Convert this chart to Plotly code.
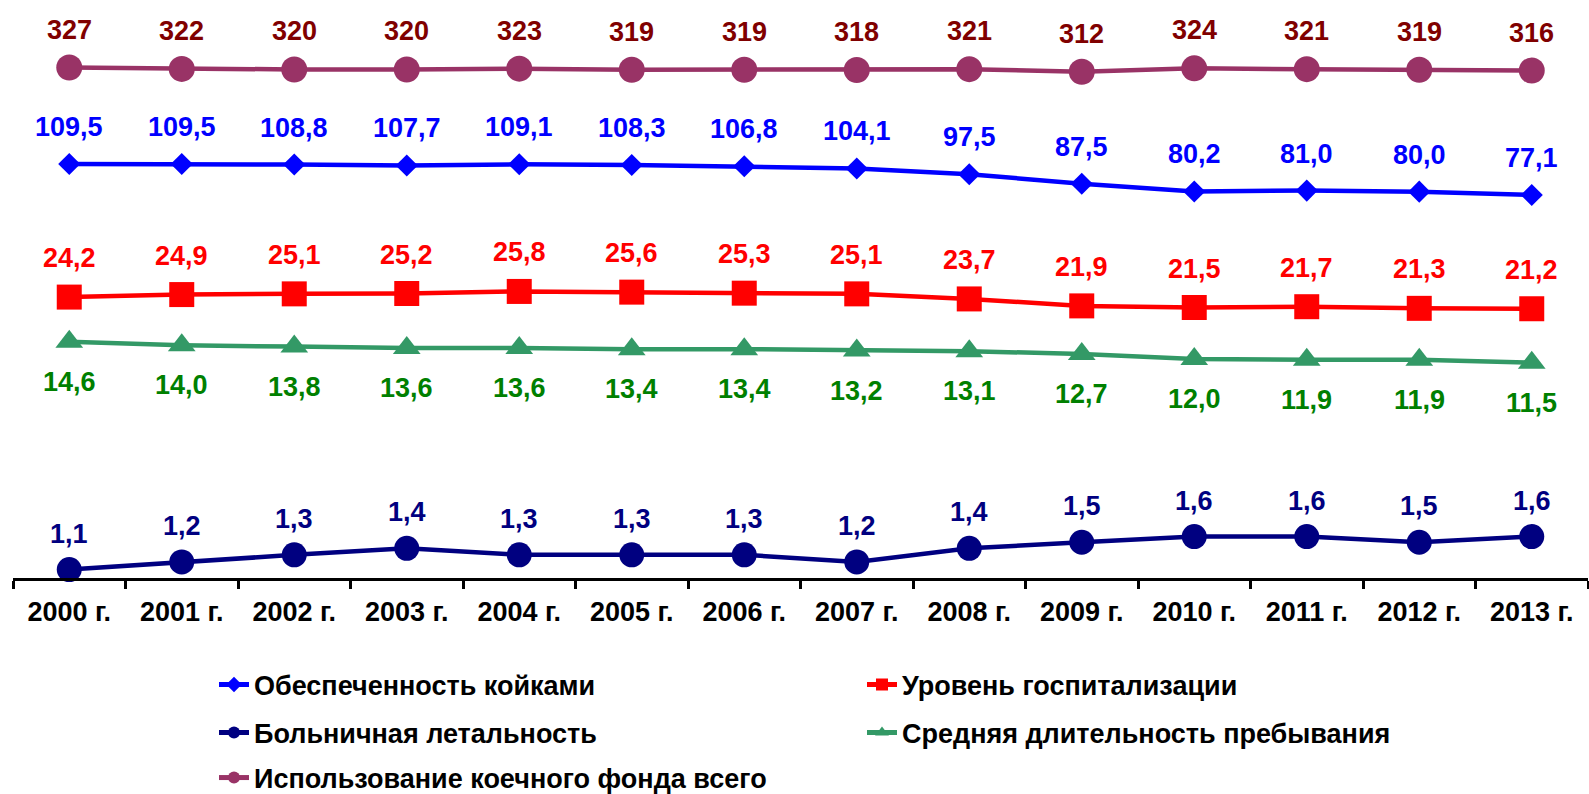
import math
import plotly.graph_objects as go

years = ["2000 г.", "2001 г.", "2002 г.", "2003 г.", "2004 г.", "2005 г.", "2006 г.",
         "2007 г.", "2008 г.", "2009 г.", "2010 г.", "2011 г.", "2012 г.", "2013 г."]

beds = [109.5, 109.5, 108.8, 107.7, 109.1, 108.3, 106.8, 104.1, 97.5, 87.5, 80.2, 81.0, 80.0, 77.1]
hosp = [24.2, 24.9, 25.1, 25.2, 25.8, 25.6, 25.3, 25.1, 23.7, 21.9, 21.5, 21.7, 21.3, 21.2]
mortality = [1.1, 1.2, 1.3, 1.4, 1.3, 1.3, 1.3, 1.2, 1.4, 1.5, 1.6, 1.6, 1.5, 1.6]
stay = [14.6, 14.0, 13.8, 13.6, 13.6, 13.4, 13.4, 13.2, 13.1, 12.7, 12.0, 11.9, 11.9, 11.5]
usage = [327, 322, 320, 320, 323, 319, 319, 318, 321, 312, 324, 321, 319, 316]

names = ["Обеспеченность койками", "Уровень госпитализации", "Больничная летальность",
         "Средняя длительность пребывания", "Использование коечного фонда всего"]

W, H = 1589, 794
L, R, T, B = 13, 1, 0, 216
plot_h = H - T - B
plot_w = W - L - R
px_per_decade = 203.0

BOLD = "Arial, Liberation Sans, sans-serif"

series = [
    # values, name, line color, marker symbol, marker size, label color, label shift, decimals
    (beds, names[0], "#0000FF", "diamond", 17, "#0000FF", 37, 1),
    (hosp, names[1], "#FF0000", "square", 25, "#FF0000", 39, 1),
    (mortality, names[2], "#000080", "circle", 25, "#000080", 36, 1),
    (stay, names[3], "#339966", "triangle-up", 24, "#008000", -40, 1),
    (usage, names[4], "#993366", "circle", 26, "#800000", 38, 0),
]

# text start x, row center y (pixels)
legend_pos = [
    (255, 685), (903, 685), (255, 733), (903, 733), (255, 778)
]

fig = go.Figure()
annotations = []
for i, (vals, name, lc, sym, ms, tc, shift, dec) in enumerate(series):
    lg = "legend" if i == 0 else f"legend{i+1}"
    fig.add_trace(go.Scatter(
        x=years, y=vals, name=name, mode="lines+markers",
        line=dict(color=lc, width=4.5),
        marker=dict(symbol=sym, size=ms, color=lc),
        cliponaxis=False, legend=lg,
    ))
    for xv, v in zip(years, vals):
        txt = (f"{v:.{dec}f}").replace(".", ",")
        annotations.append(dict(
            x=xv, y=math.log10(v), xref="x", yref="y", text=txt, showarrow=False,
            yshift=shift, font=dict(family=BOLD, size=27, color=tc, weight="bold"),
            xanchor="center", yanchor="middle",
        ))

layout_legends = {}
for i, (lx, ly) in enumerate(legend_pos):
    key = "legend" if i == 0 else f"legend{i+1}"
    layout_legends[key] = dict(
        x=(lx - 41 - L) / plot_w, y=(T + plot_h - ly) / plot_h,
        xanchor="left", yanchor="middle", orientation="h",
        bgcolor="rgba(0,0,0,0)", borderwidth=0,
        font=dict(family=BOLD, size=27, color="black", weight="bold"),
        itemsizing="constant",
    )

fig.update_layout(
    width=W, height=H,
    margin=dict(l=L, r=R, t=T, b=B, pad=0, autoexpand=False),
    plot_bgcolor="white", paper_bgcolor="white",
    showlegend=True,
    annotations=annotations,
    xaxis=dict(
        type="category", range=[-0.5, 13.5], showgrid=False, zeroline=False,
        showline=True, linecolor="black", linewidth=3,
        ticks="outside", tickson="boundaries", ticklen=8, tickwidth=3, tickcolor="black",
        tickfont=dict(family=BOLD, size=27, color="black", weight="bold"),
        ticklabelstandoff=8, automargin=False,
    ),
    yaxis=dict(
        type="log", range=[0, plot_h / px_per_decade], visible=False,
        showgrid=False, zeroline=False,
    ),
    **layout_legends,
)

fig.write_html(
    "out.html",
    config={"displayModeBar": False},
    post_script="document.body.style.margin='0';document.body.style.overflow='hidden';",
)
